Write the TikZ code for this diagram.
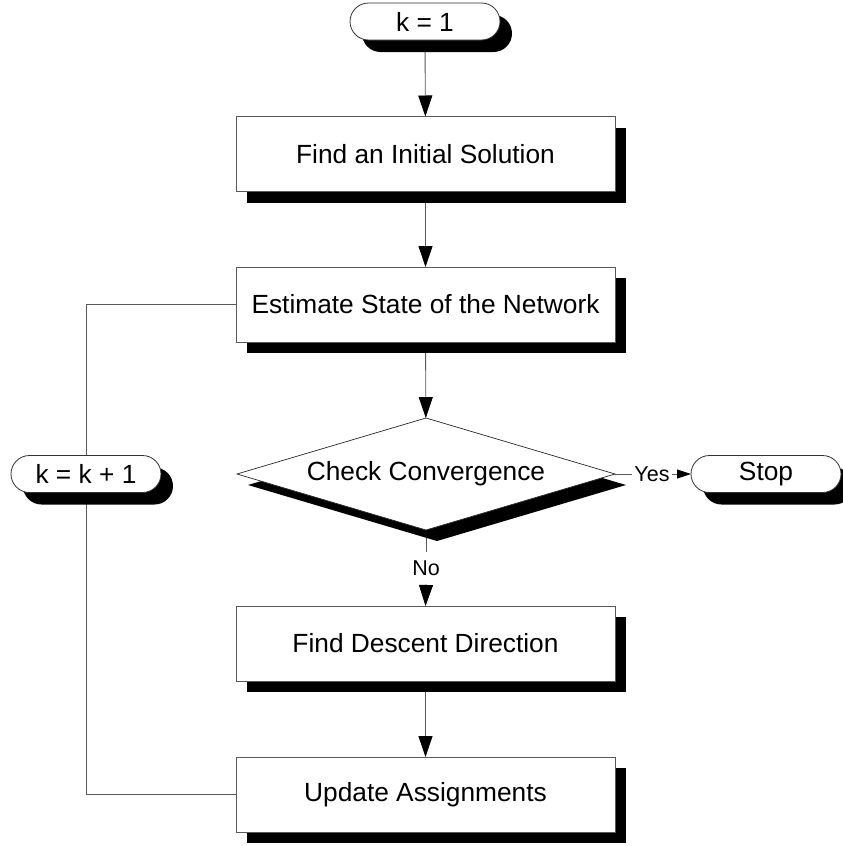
\documentclass[tikz,border=0pt]{standalone}
\usepackage{fontspec}
\setmainfont{Liberation Sans}
\usetikzlibrary{arrows.meta,shapes.geometric,shadows,positioning}
\pgfdeclarelayer{background}
\pgfsetlayers{background,main}
\begin{document}
\begin{tikzpicture}[x=1pt,y=-1pt,
  linecol/.style={draw=black!65, line width=0.9pt},
  shad/.style={drop shadow={shadow xshift=11pt,shadow yshift=-11pt,fill=black,opacity=1}},
  procbox/.style={rectangle, linecol, fill=white, shad, minimum width=379pt, minimum height=75pt,
    inner sep=0pt, outer sep=0pt, font=\fontsize{26.3}{30}\selectfont},
  termbox/.style={rectangle, rounded corners=18.5pt, draw=black!80, line width=0.8pt, fill=white,
    drop shadow={shadow xshift=12pt,shadow yshift=-12pt,fill=black,opacity=1},
    minimum width=150pt, minimum height=37pt, inner sep=0pt, outer sep=0pt,
    font=\fontsize{26.3}{30}\selectfont},
  decbox/.style={diamond, aspect=3.375, draw=black!85, line width=0.7pt, fill=white, shad,
    minimum width=378pt, minimum height=112pt, inner sep=0pt, outer sep=0pt,
    font=\fontsize{26.3}{30}\selectfont},
  lbl/.style={font=\fontsize{21.5}{24}\selectfont, inner sep=2pt},
  conn/.style={linecol},
  arr/.style={linecol, -{Triangle[length=21pt,width=14pt,black]}},
  smallarr/.style={linecol, -{Triangle[length=14pt,width=9pt,black]}}
]
\useasboundingbox (0,0) rectangle (843,846);

\node[termbox] (k1) at (425,21.5) {k = 1};
\node[procbox] (b1) at (425.5,154) {Find an Initial Solution};
\node[procbox] (b2) at (425.5,304.5) {Estimate State of the Network};
\node[decbox] (dia) at (426,474) {\raisebox{-1.5pt}{Check Convergence}};
\node[termbox] (stop) at (766,474) {Stop};
\node[termbox] (kk) at (86,474) {k = k + 1};
\node[procbox] (b3) at (425.5,643.5) {Find Descent Direction};
\node[procbox] (b4) at (425.5,794.5) {Update Assignments};

\node[lbl] (yes) at (652,474) {Yes};
\node[lbl, fill=white, inner ysep=8pt] (no) at (426,568) {No};

\begin{pgfonlayer}{background}
\draw[arr] (k1) -- (b1);
\draw[arr] (b1) -- (b2);
\draw[arr] (b2) -- (dia);
\draw[conn] (dia.east) -- (yes.west);
\draw[smallarr] (yes.east) -- (stop.west);
\draw[conn] (dia.south) -- (no.north);
\draw[arr] (no.south) -- (b3.north);
\draw[arr] (b3) -- (b4);
\draw[conn] (b4.west) -| (kk.south);
\draw[conn] (kk.north) |- (b2.west);
\end{pgfonlayer}
\end{tikzpicture}
\end{document}
